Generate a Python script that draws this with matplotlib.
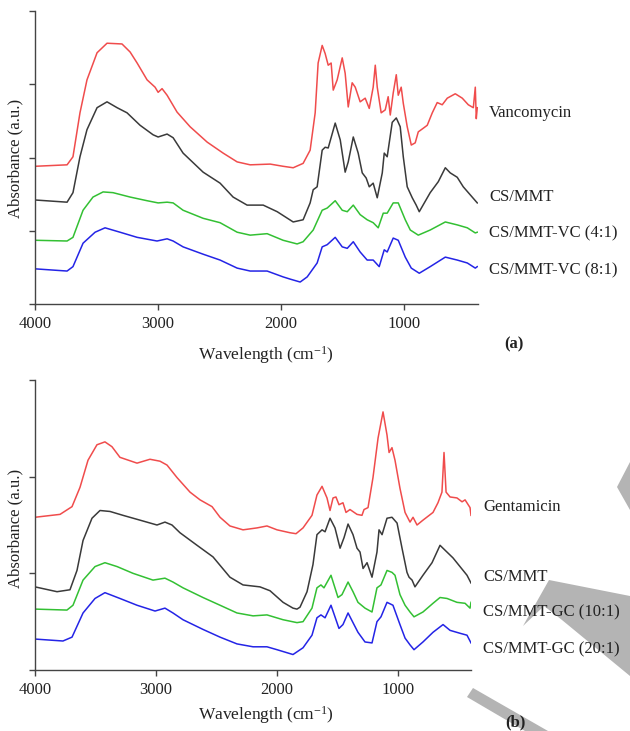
import matplotlib
matplotlib.use("Agg")
import matplotlib.pyplot as plt
from matplotlib.patches import Polygon

plt.rcParams['font.family'] = ['Liberation Serif', 'DejaVu Serif']
plt.rcParams['mathtext.fontset'] = 'custom'
plt.rcParams['mathtext.rm'] = 'Liberation Serif'
plt.rcParams['mathtext.it'] = 'Liberation Serif:italic'

# FTIR spectra, panel (a): vancomycin loaded films (wavenumber, absorbance a.u.)
vanco_wn = [4000, 3739, 3691, 3634, 3577, 3495, 3414, 3292, 3226, 3169, 3088, 3023, 2998, 2966,
            2925, 2844, 2738, 2599, 2469, 2355, 2249, 2086, 1981, 1899, 1818, 1761, 1720, 1696,
            1663, 1639, 1614, 1590, 1573, 1541, 1500, 1476, 1451, 1419, 1394, 1354, 1313, 1280,
            1248, 1231, 1215, 1183, 1150, 1126, 1109, 1085, 1060, 1044, 1020, 1003, 971, 938,
            906, 881, 840, 808, 767, 727, 686, 645, 580, 523, 474, 433, 417, 409, 401]
vanco_ab = [1.88, 1.90, 2.01, 2.61, 3.06, 3.43, 3.56, 3.55, 3.44, 3.29, 3.06, 2.96, 2.89, 2.94,
            2.85, 2.62, 2.42, 2.21, 2.06, 1.94, 1.90, 1.91, 1.88, 1.86, 1.92, 2.10, 2.61, 3.29,
            3.53, 3.42, 3.26, 3.29, 2.92, 3.06, 3.36, 3.15, 2.69, 3.02, 2.96, 2.76, 2.81, 2.67,
            2.96, 3.26, 2.96, 2.61, 2.65, 2.83, 2.58, 2.88, 3.13, 2.85, 2.96, 2.74, 2.42, 2.17,
            2.20, 2.35, 2.40, 2.44, 2.61, 2.75, 2.72, 2.81, 2.87, 2.81, 2.72, 2.68, 2.96, 2.53, 2.68]

csmmt_a_wn = [4000, 3739, 3691, 3634, 3577, 3495, 3414, 3332, 3251, 3145, 3039, 2998, 2925, 2876,
              2795, 2632, 2494, 2388, 2274, 2143, 2029, 1899, 1818, 1761, 1736, 1704, 1663, 1639,
              1614, 1557, 1516, 1476, 1451, 1410, 1370, 1337, 1305, 1280, 1248, 1215, 1174, 1158,
              1134, 1093, 1060, 1028, 1003, 971, 930, 898, 873, 784, 718, 661, 621, 564, 515,
              458, 401]
csmmt_a_ab = [1.42, 1.39, 1.52, 2.01, 2.38, 2.68, 2.76, 2.68, 2.61, 2.44, 2.31, 2.28, 2.32, 2.27,
              2.06, 1.80, 1.65, 1.46, 1.35, 1.35, 1.26, 1.12, 1.15, 1.38, 1.56, 1.60, 2.10, 2.14,
              2.13, 2.47, 2.24, 1.80, 1.94, 2.28, 2.06, 1.79, 1.72, 1.60, 1.65, 1.45, 1.79, 2.06,
              2.01, 2.48, 2.54, 2.42, 2.01, 1.60, 1.45, 1.35, 1.26, 1.52, 1.67, 1.86, 1.79, 1.73,
              1.60, 1.49, 1.38]

vc41_wn = [4000, 3739, 3691, 3609, 3528, 3446, 3365, 3226, 3088, 2998, 2925, 2876, 2795, 2632,
           2494, 2355, 2249, 2111, 1981, 1867, 1818, 1736, 1663, 1622, 1557, 1500, 1459, 1410,
           1354, 1297, 1248, 1207, 1166, 1134, 1085, 1044, 987, 946, 881, 784, 661, 564, 482,
           417, 401]
vc41_ab = [0.87, 0.86, 0.91, 1.28, 1.46, 1.53, 1.52, 1.46, 1.41, 1.38, 1.39, 1.38, 1.28, 1.17,
           1.11, 0.98, 0.94, 0.96, 0.87, 0.82, 0.85, 1.01, 1.28, 1.31, 1.41, 1.28, 1.26, 1.35,
           1.22, 1.15, 1.11, 1.04, 1.24, 1.24, 1.38, 1.38, 1.15, 1.01, 0.94, 1.01, 1.12, 1.08,
           1.04, 0.97, 0.98]

vc81_wn = [4000, 3739, 3691, 3609, 3511, 3430, 3308, 3169, 3007, 2925, 2876, 2795, 2632, 2494,
           2355, 2249, 2111, 1981, 1924, 1842, 1785, 1704, 1663, 1622, 1557, 1500, 1459, 1410,
           1354, 1297, 1248, 1199, 1158, 1134, 1085, 1044, 987, 938, 873, 784, 661, 564, 482,
           417, 401]
vc81_ab = [0.48, 0.45, 0.51, 0.83, 0.98, 1.04, 0.98, 0.91, 0.86, 0.89, 0.86, 0.78, 0.68, 0.60,
           0.49, 0.45, 0.45, 0.37, 0.34, 0.30, 0.37, 0.56, 0.78, 0.81, 0.91, 0.78, 0.76, 0.85,
           0.71, 0.60, 0.60, 0.51, 0.74, 0.71, 0.90, 0.87, 0.64, 0.49, 0.42, 0.51, 0.64, 0.60,
           0.56, 0.49, 0.51]

# panel (b): gentamicin loaded films
genta_wn = [4000, 3793, 3694, 3628, 3562, 3488, 3422, 3364, 3298, 3157, 3050, 2967, 2909, 2826,
            2719, 2636, 2537, 2471, 2389, 2281, 2165, 2083, 2000, 1893, 1843, 1785, 1711, 1670,
            1628, 1587, 1562, 1537, 1513, 1488, 1455, 1430, 1397, 1339, 1298, 1281, 1248, 1207,
            1165, 1124, 1091, 1074, 1050, 1025, 984, 942, 901, 876, 843, 794, 711, 670, 637,
            620, 603, 570, 513, 471, 446, 405, 397]
genta_ab = [1.58, 1.61, 1.69, 1.89, 2.17, 2.33, 2.36, 2.31, 2.20, 2.14, 2.18, 2.16, 2.12, 1.99,
            1.84, 1.76, 1.69, 1.58, 1.49, 1.45, 1.47, 1.49, 1.45, 1.42, 1.41, 1.47, 1.60, 1.81,
            1.90, 1.78, 1.65, 1.78, 1.79, 1.71, 1.73, 1.63, 1.66, 1.61, 1.60, 1.66, 1.68, 1.99,
            2.40, 2.67, 2.43, 2.25, 2.30, 2.17, 1.88, 1.63, 1.53, 1.58, 1.50, 1.55, 1.63, 1.73,
            1.84, 2.25, 1.84, 1.79, 1.78, 1.74, 1.76, 1.68, 1.60]

csmmt_b_wn = [4000, 3818, 3711, 3653, 3603, 3529, 3463, 3380, 3273, 3132, 2992, 2926, 2868, 2802,
              2661, 2529, 2389, 2281, 2141, 2058, 1950, 1868, 1835, 1810, 1752, 1703, 1670, 1628,
              1603, 1562, 1521, 1479, 1446, 1413, 1372, 1339, 1314, 1289, 1256, 1215, 1174, 1157,
              1132, 1091, 1050, 1008, 967, 926, 909, 884, 860, 794, 719, 653, 612, 546, 488,
              430, 397]
csmmt_b_ab = [0.86, 0.81, 0.83, 1.03, 1.34, 1.57, 1.65, 1.64, 1.60, 1.55, 1.50, 1.53, 1.50, 1.42,
              1.29, 1.17, 0.96, 0.88, 0.86, 0.82, 0.70, 0.64, 0.63, 0.65, 0.81, 1.09, 1.40, 1.45,
              1.43, 1.57, 1.47, 1.26, 1.37, 1.51, 1.40, 1.26, 1.22, 1.05, 1.11, 0.96, 1.22, 1.45,
              1.40, 1.57, 1.58, 1.52, 1.26, 1.01, 0.96, 0.93, 0.86, 0.98, 1.11, 1.29, 1.24, 1.16,
              1.07, 0.98, 0.90]

gc101_wn = [4000, 3736, 3686, 3603, 3504, 3422, 3322, 3190, 3025, 2926, 2860, 2777, 2612, 2471,
            2331, 2198, 2083, 1950, 1835, 1785, 1711, 1670, 1637, 1612, 1554, 1496, 1463, 1413,
            1372, 1331, 1273, 1215, 1174, 1141, 1091, 1050, 1025, 984, 942, 901, 868, 794, 711,
            653, 595, 513, 446, 405, 397]
gc101_ab = [0.63, 0.62, 0.67, 0.93, 1.07, 1.11, 1.07, 1.00, 0.93, 0.95, 0.91, 0.85, 0.75, 0.67,
            0.59, 0.56, 0.57, 0.52, 0.49, 0.50, 0.64, 0.85, 0.88, 0.85, 0.98, 0.75, 0.78, 0.91,
            0.81, 0.70, 0.64, 0.60, 0.85, 0.88, 1.03, 1.01, 0.98, 0.78, 0.67, 0.60, 0.55, 0.60,
            0.69, 0.75, 0.74, 0.70, 0.69, 0.64, 0.70]

gc201_wn = [4000, 3769, 3694, 3603, 3504, 3422, 3298, 3157, 3008, 2926, 2860, 2777, 2612, 2471,
            2331, 2198, 2083, 2000, 1868, 1785, 1711, 1670, 1637, 1603, 1554, 1488, 1455, 1413,
            1364, 1331, 1273, 1215, 1174, 1141, 1091, 1042, 984, 942, 901, 868, 794, 711, 628,
            570, 488, 430, 397]
gc201_ab = [0.32, 0.30, 0.34, 0.59, 0.74, 0.80, 0.74, 0.67, 0.61, 0.64, 0.59, 0.52, 0.42, 0.34,
            0.27, 0.24, 0.24, 0.21, 0.16, 0.23, 0.36, 0.54, 0.57, 0.54, 0.67, 0.43, 0.47, 0.59,
            0.47, 0.39, 0.29, 0.28, 0.50, 0.55, 0.70, 0.67, 0.47, 0.33, 0.26, 0.21, 0.29, 0.39,
            0.47, 0.41, 0.38, 0.36, 0.28]

labels_a = ['Vancomycin', 'CS/MMT', 'CS/MMT-VC (4:1)', 'CS/MMT-VC (8:1)']
labels_b = ['Gentamicin', 'CS/MMT', 'CS/MMT-GC (10:1)', 'CS/MMT-GC (20:1)']
colors = ['#f04c4c', '#3a3a3a', '#33c033', '#2424e6']
xticks = [4000, 3000, 2000, 1000]

W, H = 630, 731
fig = plt.figure(figsize=(W / 100, H / 100), dpi=100)


def px_axes(left, top, right, bottom):
    return fig.add_axes([left / W, 1 - bottom / H, (right - left) / W, (bottom - top) / H])


def style(ax, xmin, ymax):
    ax.set_xlim(4000, xmin)
    ax.set_ylim(0, ymax)
    ax.set_xticks(xticks)
    ax.set_yticks(range(ymax + 1))
    ax.set_yticklabels([])
    for side in ['top', 'right']:
        ax.spines[side].set_visible(False)
    for side in ['left', 'bottom']:
        ax.spines[side].set_color('#444444')
        ax.spines[side].set_linewidth(1.0)
    ax.tick_params(direction='out', length=4, width=1.0, color='#444444',
                   labelsize=12, labelcolor='#222222', pad=5)


def ftext(x, y, s, **kw):
    fig.text(x / W, 1 - y / H, s, color='#222222', va='center', **kw)


ax_a = px_axes(35, 11, 478, 304)
series_a = [(vanco_wn, vanco_ab), (csmmt_a_wn, csmmt_a_ab), (vc41_wn, vc41_ab), (vc81_wn, vc81_ab)]
for (wn, ab), c in zip(series_a, colors):
    ax_a.plot(wn, ab, color=c, lw=1.1)
style(ax_a, 395, 4)

ax_b = px_axes(35, 380, 471, 670)
series_b = [(genta_wn, genta_ab), (csmmt_b_wn, csmmt_b_ab), (gc101_wn, gc101_ab), (gc201_wn, gc201_ab)]
for (wn, ab), c in zip(series_b, colors):
    ax_b.plot(wn, ab, color=c, lw=1.1)
style(ax_b, 397, 3)

# axis titles and curve names
for y in (355, 715):
    ftext(266, y, 'Wavelength (cm$^{-1}$)', ha='center', fontsize=12.5)
for y in (158, 528):
    ftext(15, y, 'Absorbance (a.u.)', ha='center', rotation=90, fontsize=12)

for s, y in zip(labels_a, [113, 197, 233, 270]):
    ftext(489, y, s, ha='left', fontsize=12)
for s, y in zip(labels_b, [507, 577, 612, 649]):
    ftext(483, y, s, ha='left', fontsize=12)

ftext(514, 344, '(a)', ha='center', fontsize=12, fontweight='bold')
ftext(515, 722, '(b)', ha='center', fontsize=12, fontweight='bold')

# grey watermark strokes
strokes = [
    [(617, 487), (630, 462), (630, 510)],
    [(523, 626), (549, 580), (630, 596), (630, 676), (562, 620), (544, 606)],
    [(467, 697), (473, 688), (548, 731), (525, 731)],
]
for pts in strokes:
    fig.patches.append(Polygon([(x / W, 1 - y / H) for x, y in pts], closed=True,
                               transform=fig.transFigure, facecolor='#b4b4b4',
                               edgecolor='none', zorder=-1))

fig.savefig('out.png', dpi=100, facecolor='white')
